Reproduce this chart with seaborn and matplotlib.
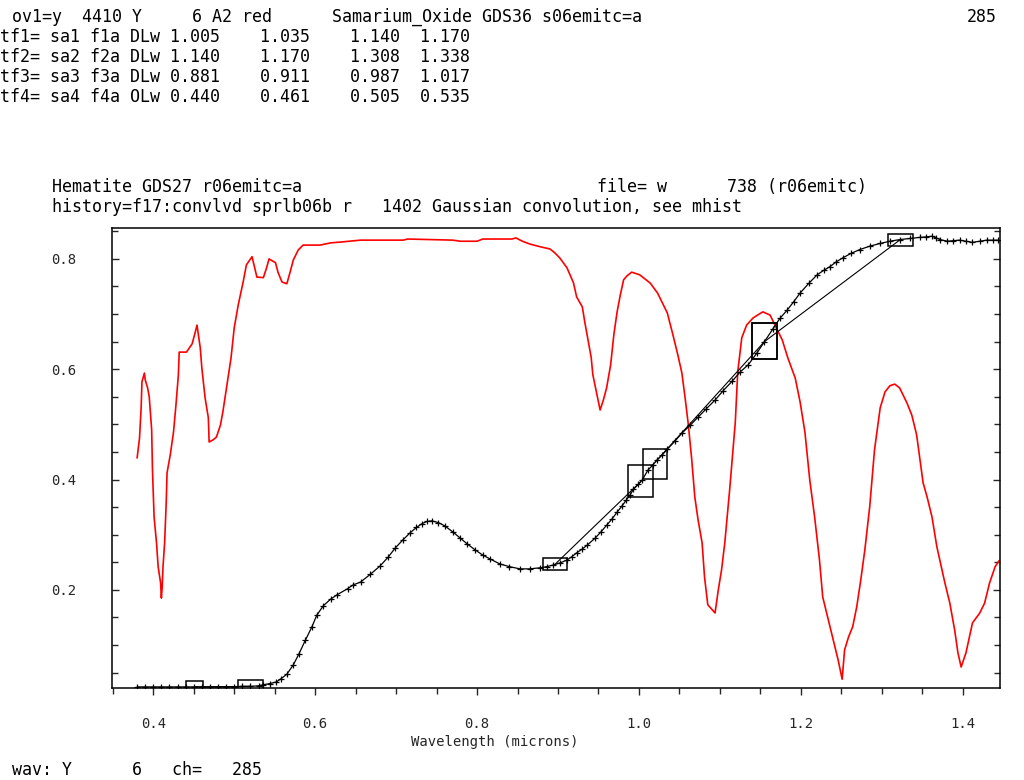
import matplotlib
matplotlib.use("Agg")
import matplotlib.pyplot as plt
import numpy as np
import seaborn as sns
from matplotlib.patches import Rectangle
from matplotlib.ticker import FormatStrFormatter, MultipleLocator

# Samarium_Oxide GDS36 (red reference spectrum)
sm_wav = [0.380, 0.383, 0.385, 0.386, 0.389, 0.390, 0.393, 0.395, 0.398, 0.399,
          0.401, 0.404, 0.406, 0.409, 0.410, 0.411, 0.412, 0.414, 0.415, 0.416,
          0.417, 0.421, 0.425, 0.428, 0.431, 0.432, 0.441, 0.448, 0.452, 0.454,
          0.458, 0.460, 0.464, 0.468, 0.469, 0.474, 0.478, 0.483, 0.486, 0.491,
          0.496, 0.500, 0.505, 0.511, 0.515, 0.522, 0.528, 0.536, 0.540, 0.543,
          0.551, 0.554, 0.559, 0.565, 0.569, 0.573, 0.579, 0.585, 0.606, 0.619,
          0.635, 0.656, 0.709, 0.714, 0.770, 0.779, 0.800, 0.807, 0.843, 0.848,
          0.856, 0.865, 0.878, 0.890, 0.896, 0.902, 0.911, 0.919, 0.923, 0.930,
          0.933, 0.937, 0.941, 0.943, 0.948, 0.952, 0.956, 0.960, 0.965, 0.969,
          0.973, 0.977, 0.981, 0.985, 0.991, 1.001, 1.014, 1.023, 1.035, 1.042,
          1.048, 1.053, 1.057, 1.061, 1.065, 1.069, 1.073, 1.078, 1.081, 1.085,
          1.094, 1.098, 1.102, 1.106, 1.109, 1.112, 1.119, 1.122, 1.127, 1.133,
          1.141, 1.153, 1.162, 1.168, 1.177, 1.184, 1.193, 1.199, 1.205, 1.211,
          1.217, 1.223, 1.227, 1.233, 1.240, 1.246, 1.251, 1.254, 1.259, 1.264,
          1.269, 1.274, 1.279, 1.285, 1.291, 1.294, 1.298, 1.304, 1.310, 1.316,
          1.322, 1.331, 1.337, 1.343, 1.351, 1.356, 1.362, 1.368, 1.378, 1.384,
          1.390, 1.394, 1.398, 1.404, 1.412, 1.421, 1.427, 1.433, 1.440, 1.445]
sm_refl = [0.439, 0.475, 0.530, 0.577, 0.593, 0.581, 0.566, 0.550, 0.490, 0.417,
           0.332, 0.285, 0.242, 0.213, 0.185, 0.205, 0.242, 0.285, 0.321, 0.359,
           0.412, 0.445, 0.486, 0.535, 0.590, 0.631, 0.631, 0.646, 0.668, 0.680,
           0.639, 0.602, 0.548, 0.512, 0.468, 0.472, 0.477, 0.499, 0.523, 0.572,
           0.620, 0.675, 0.717, 0.758, 0.789, 0.804, 0.767, 0.766, 0.784, 0.800,
           0.793, 0.776, 0.758, 0.755, 0.776, 0.798, 0.816, 0.825, 0.825, 0.829,
           0.831, 0.834, 0.834, 0.836, 0.834, 0.832, 0.832, 0.836, 0.836, 0.838,
           0.832, 0.827, 0.822, 0.818, 0.811, 0.802, 0.784, 0.757, 0.731, 0.713,
           0.686, 0.653, 0.621, 0.590, 0.554, 0.526, 0.544, 0.566, 0.608, 0.663,
           0.704, 0.735, 0.762, 0.769, 0.776, 0.771, 0.756, 0.738, 0.702, 0.662,
           0.626, 0.593, 0.548, 0.499, 0.439, 0.368, 0.327, 0.285, 0.223, 0.173,
           0.158, 0.200, 0.236, 0.285, 0.332, 0.381, 0.504, 0.595, 0.657, 0.680,
           0.693, 0.704, 0.698, 0.680, 0.653, 0.620, 0.584, 0.541, 0.486, 0.399,
           0.332, 0.254, 0.187, 0.151, 0.109, 0.073, 0.038, 0.091, 0.115, 0.133,
           0.169, 0.218, 0.272, 0.350, 0.454, 0.486, 0.530, 0.559, 0.570, 0.573,
           0.566, 0.539, 0.517, 0.481, 0.394, 0.368, 0.332, 0.278, 0.212, 0.176,
           0.127, 0.086, 0.060, 0.086, 0.140, 0.158, 0.176, 0.212, 0.242, 0.253]

# Hematite GDS27 (black, + markers)
hem_wav = [0.380, 0.390, 0.400, 0.410, 0.420, 0.430, 0.440, 0.450, 0.460, 0.470,
           0.480, 0.490, 0.500, 0.510, 0.520, 0.530, 0.536, 0.544, 0.552, 0.558,
           0.565, 0.573, 0.580, 0.588, 0.596, 0.602, 0.610, 0.619, 0.627, 0.640,
           0.647, 0.656, 0.668, 0.680, 0.690, 0.699, 0.708, 0.717, 0.725, 0.732,
           0.738, 0.744, 0.752, 0.760, 0.770, 0.779, 0.788, 0.798, 0.807, 0.816,
           0.828, 0.840, 0.853, 0.865, 0.878, 0.886, 0.894, 0.903, 0.911, 0.917,
           0.923, 0.930, 0.936, 0.946, 0.953, 0.960, 0.967, 0.973, 0.979, 0.984,
           0.989, 0.993, 0.999, 1.004, 1.011, 1.017, 1.022, 1.029, 1.035, 1.044,
           1.053, 1.063, 1.073, 1.083, 1.094, 1.104, 1.115, 1.125, 1.135, 1.146,
           1.155, 1.165, 1.174, 1.183, 1.191, 1.199, 1.210, 1.220, 1.228, 1.236,
           1.244, 1.252, 1.262, 1.273, 1.285, 1.298, 1.310, 1.322, 1.335, 1.347,
           1.355, 1.362, 1.367, 1.372, 1.381, 1.388, 1.396, 1.404, 1.412, 1.421,
           1.430, 1.437, 1.443]
hem_refl = [0.024, 0.024, 0.024, 0.024, 0.024, 0.024, 0.024, 0.024, 0.024, 0.024,
            0.024, 0.024, 0.024, 0.025, 0.025, 0.026, 0.028, 0.030, 0.033, 0.039,
            0.047, 0.064, 0.084, 0.109, 0.133, 0.154, 0.171, 0.183, 0.191, 0.202,
            0.209, 0.214, 0.228, 0.243, 0.259, 0.276, 0.290, 0.303, 0.313, 0.320,
            0.324, 0.325, 0.322, 0.316, 0.305, 0.294, 0.283, 0.272, 0.263, 0.256,
            0.247, 0.242, 0.238, 0.238, 0.240, 0.242, 0.245, 0.249, 0.254, 0.260,
            0.267, 0.274, 0.281, 0.294, 0.305, 0.317, 0.329, 0.341, 0.352, 0.362,
            0.372, 0.382, 0.391, 0.399, 0.417, 0.426, 0.435, 0.445, 0.455, 0.469,
            0.484, 0.498, 0.513, 0.528, 0.544, 0.561, 0.578, 0.595, 0.608, 0.630,
            0.650, 0.672, 0.692, 0.707, 0.722, 0.738, 0.756, 0.771, 0.779, 0.786,
            0.795, 0.802, 0.810, 0.817, 0.823, 0.828, 0.832, 0.835, 0.837, 0.839,
            0.840, 0.841, 0.838, 0.835, 0.832, 0.833, 0.834, 0.832, 0.830, 0.832,
            0.834, 0.834, 0.834]

# continuum intervals of the fitted features (tf1..tf4 header lines)
feat_left_lo = [1.005, 1.140, 0.881, 0.440]
feat_left_hi = [1.035, 1.170, 0.911, 0.461]
feat_right_lo = [1.140, 1.308, 0.987, 0.505]
feat_right_hi = [1.170, 1.338, 1.017, 0.535]

x_ticks = [0.4, 0.6, 0.8, 1.0, 1.2, 1.4]
y_ticks = [0.2, 0.4, 0.6, 0.8]

header_lines = [
    "ov1=y  4410 Y     6 A2 red      Samarium_Oxide GDS36 s06emitc=a",
    "tf1= sa1 f1a DLw 1.005    1.035    1.140  1.170",
    "tf2= sa2 f2a DLw 1.140    1.170    1.308  1.338",
    "tf3= sa3 f3a DLw 0.881    0.911    0.987  1.017",
    "tf4= sa4 f4a OLw 0.440    0.461    0.505  0.535",
]
header_y = [17, 37, 57, 77, 97]
MONO = "DejaVu Sans Mono"


def box_extent(lo, hi):
    """Range of the hematite spectrum inside a continuum interval."""
    w = np.array(hem_wav)
    r = np.array(hem_refl)
    vals = np.concatenate([r[(w >= lo) & (w <= hi)], np.interp([lo, hi], w, r)])
    vmin, vmax = vals.min(), vals.max()
    pad = max(0.0, (0.022 - (vmax - vmin)) / 2)
    return vmin - pad, vmax + pad


def fig_text(fig, x_px, y_px, s, size=12, ha="left"):
    fig.text(x_px / 1024, 1 - y_px / 780, s, ha=ha, va="center",
             fontsize=size, family=MONO, color="black")


sns.set_theme(style="ticks")
plt.rcParams["font.family"] = [MONO, "DejaVu Sans"]

fig = plt.figure(figsize=(10.24, 7.80), dpi=100)
ax = fig.add_axes([112 / 1024, 1 - 688 / 780, 888 / 1024, 460 / 780])

sns.lineplot(x=sm_wav, y=sm_refl, ax=ax, color="#ff0000", linewidth=1.2,
             sort=False, estimator=None)
sns.lineplot(x=hem_wav, y=hem_refl, ax=ax, color="black", linewidth=0.9,
             marker="+", markersize=4, markeredgewidth=0.9, markeredgecolor="black",
             sort=False, estimator=None)

# continuum boxes and straight continuum lines
for lo1, hi1, lo2, hi2 in zip(feat_left_lo, feat_left_hi, feat_right_lo, feat_right_hi):
    ends = []
    for lo, hi in ((lo1, hi1), (lo2, hi2)):
        b0, b1 = box_extent(lo, hi)
        ax.add_patch(Rectangle((lo, b0), hi - lo, b1 - b0, fill=False,
                               edgecolor="black", linewidth=1.1, zorder=4))
        mid = (lo + hi) / 2
        ends.append((mid, float(np.interp(mid, hem_wav, hem_refl))))
    ax.plot([ends[0][0], ends[1][0]], [ends[0][1], ends[1][1]],
            color="black", linewidth=0.8, zorder=3)

ax.set_xlim(0.349, 1.446)
ax.set_ylim(0.022, 0.856)
ax.set_xticks(x_ticks)
ax.set_yticks(y_ticks)
ax.xaxis.set_minor_locator(MultipleLocator(0.05))
ax.yaxis.set_minor_locator(MultipleLocator(0.05))
ax.xaxis.set_major_formatter(FormatStrFormatter("%.1f"))
ax.yaxis.set_major_formatter(FormatStrFormatter("%.1f"))
ax.tick_params(axis="x", which="major", direction="out", length=5, width=1,
               pad=16, labelsize=10, top=False)
ax.tick_params(axis="x", which="minor", direction="out", length=4, width=1, top=False)
ax.tick_params(axis="y", which="major", direction="in", length=5, width=1,
               pad=26, labelsize=10, left=True, right=True)
ax.tick_params(axis="y", which="minor", direction="in", length=4, width=1,
               left=True, right=True)
for sp in ax.spines.values():
    sp.set_visible(True)
    sp.set_color("black")
    sp.set_linewidth(1.1)
ax.set_xlabel("Wavelength (microns)", fontsize=10, va="center")
ax.xaxis.set_label_coords((495 - 112) / 888, (688 - 742) / 460)
ax.set_ylabel("")
ax.grid(False)

for line, y in zip(header_lines, header_y):
    fig_text(fig, 12 if y == 17 else 0, y, line)
fig_text(fig, 997, 17, "285", ha="right")
fig_text(fig, 52, 187, "Hematite GDS27 r06emitc=a")
fig_text(fig, 597, 187, "file= w      738 (r06emitc)")
fig_text(fig, 52, 207, "history=f17:convlvd sprlb06b r   1402 Gaussian convolution, see mhist")
fig_text(fig, 12, 770, "wav: Y      6   ch=   285")

fig.savefig("out.png", dpi=100, facecolor="white")
